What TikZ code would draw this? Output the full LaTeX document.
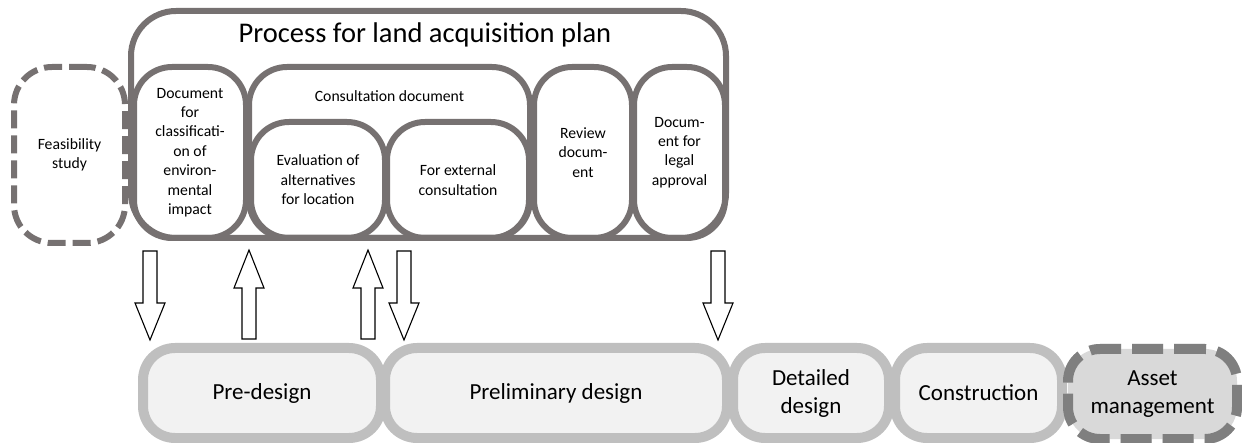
\documentclass[tikz,border=0pt]{standalone}
\usepackage{fontspec}
\setmainfont{Carlito}
\definecolor{planline}{HTML}{767171}
\definecolor{phaseline}{HTML}{BFBFBF}
\definecolor{phasefill}{HTML}{F2F2F2}
\definecolor{assetline}{HTML}{7F7F7F}
\definecolor{assetfill}{HTML}{D9D9D9}

\begin{document}
\begin{tikzpicture}[x=1pt,y=-1pt,
  docbox/.style={draw=planline,line width=6pt,rounded corners=38pt,align=center,inner sep=2pt,
    font=\fontsize{15.7}{19.4}\selectfont},
  feasbox/.style={docbox,dash pattern=on 18pt off 7pt},
  phase/.style={draw=phaseline,fill=phasefill,line width=10pt,rounded corners=32pt,
    minimum height=90pt,align=center,font=\fontsize{23}{28}\selectfont},
  assetbox/.style={phase,draw=assetline,fill=assetfill,dash pattern=on 31pt off 11pt,
    preaction={draw=assetfill,line width=10pt}},
  hollow/.style={draw=black,fill=white,line width=1.1pt,line join=miter}]

\useasboundingbox (0,0) rectangle (1242,443);

%feasibility and land acquisition plan
  \node[feasbox,minimum width=111pt,minimum height=176pt] (feas) at (69.5,155) {Feasibility\\study};
  \node[docbox,rounded corners=45pt,minimum width=595pt,minimum height=227pt] (plan) at (428.5,124.5) {};
  \node[anchor=base,font=\fontsize{28.5}{34}\selectfont] (plantitle) at (425,43) {Process for land acquisition plan};

%documents of the plan
  \node[docbox,minimum width=112pt,minimum height=171pt] (classif) at (190,152.5)
    {Document\\for\\classificati-\\on of\\environ-\\mental\\impact};
  \node[docbox,minimum width=281pt,minimum height=171pt] (consult) at (389.5,152.5) {};
  \node[anchor=base,font=\fontsize{15.7}{19.4}\selectfont] (consulttitle) at (389.5,102) {Consultation document};
  \node[docbox,minimum width=134pt,minimum height=116pt] (altern) at (318,180) {Evaluation of\\alternatives\\for location};
  \node[docbox,minimum width=142pt,minimum height=116pt] (external) at (458,180) {For external\\consultation};
  \node[docbox,minimum width=98pt,minimum height=171pt] (review) at (583,152.5) {Review\\docum-\\ent};
  \node[docbox,minimum width=91pt,minimum height=171pt] (legal) at (679.5,152.5) {Docum-\\ent for\\legal\\approval};

%design phases
  \node[phase,minimum width=238pt] (predesign) at (262,393) {Pre-design};
  \node[phase,minimum width=342pt] (prelim) at (556,393) {Preliminary design};
  \node[phase,minimum width=156pt] (detailed) at (811,393) {Detailed\\design};
  \node[phase,minimum width=167pt] (constr) at (978.5,393) {Construction};
  \node[assetbox,minimum width=169pt] (asset) at (1152.5,394) {Asset\\management};

%draw block arrows
  \foreach \x in {150,404,718}
    \draw[hollow,shift={(\x,251)}] (-7,0) -- (7,0) -- (7,52) -- (15,52) -- (0,89) -- (-15,52) -- (-7,52) -- cycle;
  \foreach \x in {249,368}
    \draw[hollow,shift={(\x,250)}] (0,0) -- (15,38) -- (7,38) -- (7,89) -- (-7,89) -- (-7,38) -- (-15,38) -- cycle;

\end{tikzpicture}
\end{document}
